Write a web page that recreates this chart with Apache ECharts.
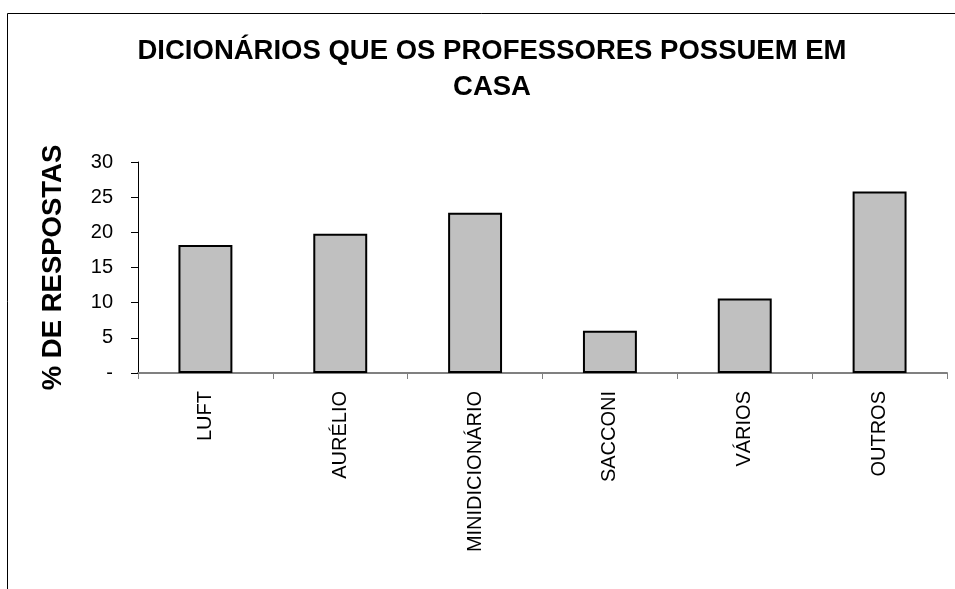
<!DOCTYPE html>
<html><head><meta charset="utf-8">
<script src="https://cdn.jsdelivr.net/npm/echarts@6/dist/echarts.min.js"></script>
<style>html,body{margin:0;padding:0;background:#fff}#c{width:955px;height:589px}</style>
</head><body><div id="c"></div>
<script>
var categories = ['LUFT', 'AURÉLIO', 'MINIDICIONÁRIO', 'SACCONI', 'VÁRIOS', 'OUTROS'];
var values = [18.2, 19.8, 22.8, 6.0, 10.6, 25.8];
var titleText = 'DICIONÁRIOS QUE OS PROFESSORES POSSUEM EM\nCASA';
var yAxisName = '% DE RESPOSTAS';

var FONT = 'Liberation Sans, Arial, sans-serif';
var chart = echarts.init(document.getElementById('c'), null, {renderer: 'canvas'});
chart.setOption({
  animation: false,
  backgroundColor: '#fff',
  graphic: [{
    type: 'rect', shape: {x: 7.5, y: 13.5, width: 960, height: 600},
    style: {fill: 'none', stroke: '#000', lineWidth: 1}, silent: true
  }],
  title: {
    text: titleText, left: 487, textAlign: 'center', top: 28,
    textStyle: {fontFamily: FONT, fontWeight: 'bold', fontSize: 27.5, lineHeight: 36, color: '#000'}
  },
  grid: {left: 138, top: 162, right: 8, bottom: 216, containLabel: false},
  xAxis: {
    type: 'category', data: categories,
    axisLine: {lineStyle: {color: '#808080', width: 2}},
    axisTick: {show: true, alignWithLabel: false, length: 6, lineStyle: {color: '#808080'}},
    axisLabel: {rotate: 90, fontFamily: FONT, fontSize: 20, color: '#000', margin: 18}
  },
  yAxis: {
    type: 'value', min: 0, max: 30, interval: 5,
    name: yAxisName, nameLocation: 'middle', nameGap: 71, nameRotate: 90,
    nameTextStyle: {fontFamily: FONT, fontWeight: 'bold', fontSize: 27.5, color: '#000'},
    axisLine: {show: true, lineStyle: {color: '#000', width: 1}},
    axisTick: {show: true, length: 7, lineStyle: {color: '#000'}},
    splitLine: {show: false},
    axisLabel: {
      fontFamily: FONT, fontSize: 20, color: '#000', margin: 25,
      formatter: function (v) { return v === 0 ? '-' : String(v); }
    }
  },
  series: [{
    type: 'bar', data: values, barWidth: '40%',
    itemStyle: {color: '#c0c0c0', borderColor: '#000', borderWidth: 2}
  }]
});
</script></body></html>
